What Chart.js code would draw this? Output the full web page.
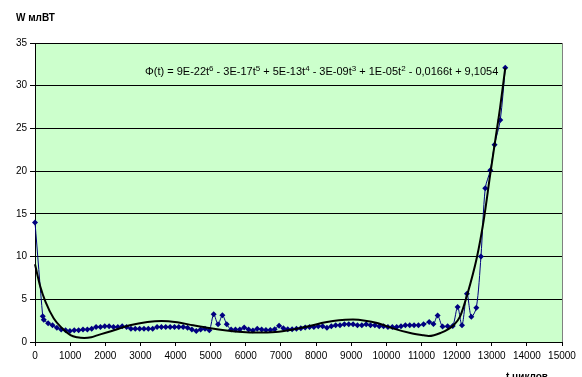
<!DOCTYPE html>
<html>
<head>
<meta charset="utf-8">
<script src="https://cdn.jsdelivr.net/npm/chart.js@4/dist/chart.umd.min.js"></script>
<style>
  html, body { margin: 0; padding: 0; background: #ffffff; overflow: hidden; }
  #wrap { width: 582px; height: 377px; position: relative; }
</style>
</head>
<body>
<div id="wrap"><canvas id="c" width="582" height="377"></canvas></div>
<script>
// Measured power W (mW) against the number of cycles t
const cycles = [
  0, 220, 250, 374, 498, 622, 746, 870, 994, 1118, 1242, 1366, 1490, 1614, 1738, 1862, 1986,
  2110, 2234, 2358, 2482, 2606, 2730, 2854, 2978, 3102, 3226, 3350, 3474, 3598, 3722, 3846,
  3970, 4094, 4218, 4342, 4466, 4590, 4714, 4838, 4962, 5086, 5210, 5334, 5458, 5582, 5706,
  5830, 5954, 6078, 6202, 6326, 6450, 6574, 6698, 6822, 6946, 7070, 7194, 7318, 7442, 7566,
  7690, 7814, 7938, 8062, 8186, 8310, 8434, 8558, 8682, 8806, 8930, 9054, 9178, 9302, 9426,
  9550, 9674, 9798, 9922, 10046, 10170, 10294, 10418, 10542, 10666, 10790, 10914, 11060,
  11220, 11340, 11460, 11600, 11745, 11890, 12029, 12153, 12295, 12418, 12561, 12693, 12816,
  12959, 13081, 13243, 13385
];
const power = [
  14.0, 3.0, 2.6, 2.2, 1.95, 1.68, 1.45, 1.37, 1.3, 1.37, 1.37, 1.45, 1.45, 1.56, 1.76, 1.76, 1.84,
  1.84, 1.76, 1.76, 1.84, 1.76, 1.56, 1.56, 1.56, 1.56, 1.56, 1.56, 1.76, 1.76, 1.76, 1.76,
  1.76, 1.76, 1.76, 1.68, 1.45, 1.29, 1.45, 1.56, 1.37, 3.24, 2.07, 3.12, 2.07, 1.45, 1.45,
  1.45, 1.7, 1.45, 1.35, 1.56, 1.45, 1.4, 1.4, 1.5, 1.9, 1.6, 1.5, 1.5, 1.56, 1.6,
  1.7, 1.76, 1.76, 1.84, 1.84, 1.68, 1.84, 1.95, 1.95, 2.07, 2.07, 2.07, 1.95, 1.95, 2.07,
  1.95, 1.95, 1.84, 1.84, 1.76, 1.76, 1.76, 1.84, 1.95, 1.95, 1.95, 1.95, 2.07,
  2.34, 2.1, 3.1, 1.8, 1.85, 1.88, 4.1, 1.95, 5.66, 2.97, 4.0, 10.0, 18.0,
  20.1, 23.1, 26.0, 32.1
];

// 6th-order polynomial trend Φ(t)
const trendCycles = [
  0, 150, 300, 535, 775, 1010, 1200, 1400, 1600, 1770, 2250, 2700, 3200, 3600, 4050, 4500,
  5000, 5450, 5900, 6270, 6850, 7320, 7790, 8270, 8650, 9050, 9400, 9740, 10210, 10680,
  11060, 11200, 11540, 11920, 12100, 12300, 12580, 12770, 12960, 13100, 13240, 13385
];
const trendPower = [
  9.1, 6.5, 4.7, 2.75, 1.6, 0.8, 0.55, 0.47, 0.55, 0.78, 1.37, 1.95, 2.34, 2.46, 2.3, 1.95,
  1.6, 1.35, 1.17, 1.1, 1.17, 1.45, 1.84, 2.3, 2.55, 2.62, 2.5, 2.22, 1.57, 1.05,
  0.78, 0.7, 1.05, 2.0, 3.0, 5.5, 9.95, 14.2, 19.7, 23.6, 27.5, 32.1
];

const xTickValues = [0, 1000, 2000, 3000, 4000, 5000, 6000, 7000, 8000, 9000, 10000, 11000, 12000, 13000, 14000, 15000];
const yTickValues = [0, 5, 10, 15, 20, 25, 30, 35];

const yTitle = 'W млВТ';
const xTitle = 't циклов';
// equation pieces: [text, superscript?]
const equation = [
  ['Φ(t) = 9E-22t', false], ['6', true], [' - 3E-17t', false], ['5', true],
  [' + 5E-13t', false], ['4', true], [' - 3E-09t', false], ['3', true],
  [' + 1E-05t', false], ['2', true], [' - 0,0166t + 9,1054', false]
];

const FONT = '"Liberation Sans", Arial, sans-serif';

const plotDecor = {
  id: 'plotDecor',
  beforeDraw(chart) {
    const { ctx, chartArea: a } = chart;
    ctx.save();
    ctx.fillStyle = '#CCFFCC';
    ctx.fillRect(a.left, a.top, a.right - a.left, a.bottom - a.top);
    ctx.restore();
  },
  afterDraw(chart) {
    const { ctx, chartArea: a } = chart;
    ctx.save();
    // right edge of the plot area
    ctx.strokeStyle = '#808080';
    ctx.lineWidth = 1;
    ctx.beginPath();
    ctx.moveTo(Math.round(a.right) + 0.5, a.top);
    ctx.lineTo(Math.round(a.right) + 0.5, a.bottom);
    ctx.stroke();

    // axis titles
    ctx.fillStyle = '#000';
    ctx.font = 'bold 10px ' + FONT;
    ctx.textBaseline = 'middle';
    ctx.textAlign = 'left';
    ctx.fillText(yTitle, 16, 18);
    ctx.textBaseline = 'alphabetic';
    ctx.fillText(xTitle, 506, 380);

    // trend equation
    let x = 145;
    const base = 75;
    for (const [txt, sup] of equation) {
      ctx.font = (sup ? '8px ' : '11px ') + FONT;
      ctx.fillText(txt, x, sup ? base - 4.5 : base);
      x += ctx.measureText(txt).width;
    }
    ctx.restore();
  }
};

new Chart(document.getElementById('c'), {
  type: 'line',
  data: {
    datasets: [
      {
        label: 'Φ(t)',
        data: trendCycles.map((t, i) => ({ x: t, y: trendPower[i] })),
        borderColor: '#000000',
        borderWidth: 2,
        pointRadius: 0,
        cubicInterpolationMode: 'monotone',
        clip: false,
        fill: false
      },
      {
        label: 'W',
        data: cycles.map((t, i) => ({ x: t, y: power[i] })),
        borderColor: '#000080',
        backgroundColor: '#000080',
        borderWidth: 1,
        pointStyle: 'rectRot',
        pointRadius: 3,
        pointBorderWidth: 0,
        pointBackgroundColor: '#000080',
        tension: 0.3,
        clip: false,
        fill: false
      }
    ]
  },
  options: {
    responsive: false,
    animation: false,
    devicePixelRatio: 1,
    layout: { padding: { top: 43, right: 20, left: 0, bottom: 0 } },
    plugins: { legend: { display: false }, tooltip: { enabled: false } },
    scales: {
      x: {
        type: 'linear',
        min: 0,
        max: 15000,
        afterBuildTicks: s => { s.ticks = xTickValues.map(v => ({ value: v })); },
        afterFit: s => { s.height = 35; },
        grid: { drawOnChartArea: false, drawTicks: true, tickLength: 4, color: '#000' },
        border: { color: '#000', width: 1 },
        ticks: {
          color: '#000',
          font: { family: FONT, size: 10 },
          padding: 4,
          maxRotation: 0,
          autoSkip: false,
          callback: v => String(v)
        }
      },
      y: {
        min: 0,
        max: 35,
        afterBuildTicks: s => { s.ticks = yTickValues.map(v => ({ value: v })); },
        afterFit: s => { s.width = 35; },
        grid: { color: '#000', lineWidth: 1, tickLength: 5 },
        border: { color: '#000', width: 1 },
        ticks: {
          color: '#000',
          font: { family: FONT, size: 10 },
          padding: 3,
          callback: v => String(v)
        }
      }
    }
  },
  plugins: [plotDecor]
});
</script>
</body>
</html>
